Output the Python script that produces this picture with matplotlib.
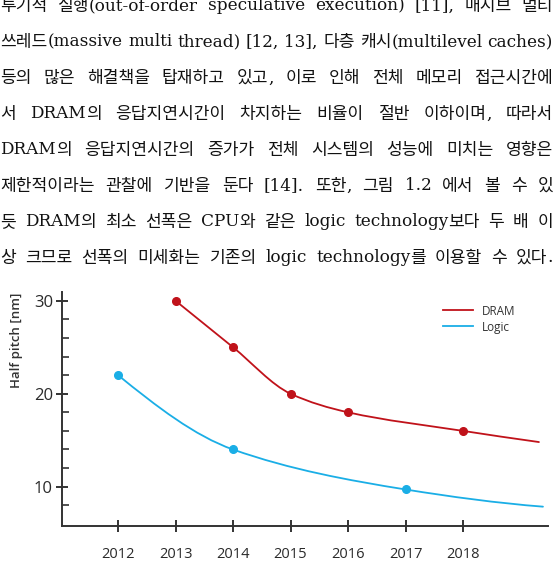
import re
import numpy as np
import matplotlib
matplotlib.use("Agg")
import matplotlib.pyplot as plt
from matplotlib.path import Path
from matplotlib.patches import PathPatch
from matplotlib.lines import Line2D

# ---------------- data ----------------
text_lines = [
    "투기적 실행(out-of-order speculative execution) [11], 매시브 멀티",
    "쓰레드(massive multi thread) [12, 13], 다층 캐시(multilevel caches)",
    "등의 많은 해결책을 탑재하고 있고, 이로 인해 전체 메모리 접근시간에",
    "서 DRAM의 응답지연시간이 차지하는 비율이 절반 이하이며, 따라서",
    "DRAM의 응답지연시간의 증가가 전체 시스템의 성능에 미치는 영향은",
    "제한적이라는 관찰에 기반을 둔다 [14]. 또한, 그림 1.2 에서 볼 수 있",
    "듯 DRAM의 최소 선폭은 CPU와 같은 logic technology보다 두 배 이",
    "상 크므로 선폭의 미세화는 기존의 logic technology를 이용할 수 있다.",
]

years = [2012, 2013, 2014, 2015, 2016, 2017, 2018]

dram_years = [2013, 2014, 2015, 2016, 2018]
dram_vals = [30, 25, 20, 18, 16]
dram_end = (2019.32, 14.8)     # curve continues past last marker

logic_years = [2012, 2014, 2017]
logic_vals = [22, 14, 9.7]
logic_end = (2019.39, 7.85)

dram_color = "#c0121a"
logic_color = "#1aaee6"

# ---------------- figure ----------------
W, H = 560, 569
fig = plt.figure(figsize=(W / 100, H / 100), dpi=100)

# paragraph text (justified, Hangul and Latin runs in separate fonts)
renderer = fig.canvas.get_renderer()
hangul_re = re.compile(r"([\uac00-\ud7a3\u3130-\u318f]+)")
x_left, x_right = 0.5, 553.0
y0, dy = 4.0, 36.0
for i, line in enumerate(text_lines):
    words = line.split(" ")
    ypix = y0 + i * dy
    yf = 1 - ypix / H
    word_runs = []
    for w in words:
        runs = []
        for seg in hangul_re.split(w):
            if not seg:
                continue
            if hangul_re.fullmatch(seg):
                t = fig.text(0, yf, seg, family="Noto Sans CJK KR",
                             fontsize=12.3, color="#111111",
                             va="center_baseline", ha="left")
            else:
                t = fig.text(0, yf, seg, family="DejaVu Serif",
                             fontsize=12.2, color="#111111",
                             va="center_baseline", ha="left")
            runs.append((t, t.get_window_extent(renderer).width))
        word_runs.append(runs)
    widths = [sum(r[1] for r in runs) for runs in word_runs]
    gap = (x_right - x_left - sum(widths)) / max(len(words) - 1, 1)
    x = x_left
    for runs, wd in zip(word_runs, widths):
        xx = x
        for t, rw in runs:
            t.set_x(xx / W)
            xx += rw
        x += wd + gap

# chart axes
ax_l, ax_r, ax_b, ax_t = 62, 548, 526, 292
ax = fig.add_axes([ax_l / W, 1 - ax_b / H, (ax_r - ax_l) / W, (ax_b - ax_t) / H])
ax.patch.set_alpha(0)


def smooth_path(xs, ys):
    xs = np.asarray(xs, float)
    ys = np.asarray(ys, float)
    h = np.diff(xs)
    d = np.diff(ys) / h
    n = len(xs)
    m = np.zeros(n)
    for k in range(1, n - 1):
        if d[k - 1] * d[k] <= 0:
            m[k] = 0
        else:
            w1 = 2 * h[k] + h[k - 1]
            w2 = h[k] + 2 * h[k - 1]
            m[k] = (w1 + w2) / (w1 / d[k - 1] + w2 / d[k])
    m[0] = ((2 * h[0] + h[1]) * d[0] - h[0] * d[1]) / (h[0] + h[1])
    m[-1] = ((2 * h[-1] + h[-2]) * d[-1] - h[-1] * d[-2]) / (h[-1] + h[-2])
    verts = [(xs[0], ys[0])]
    codes = [Path.MOVETO]
    for k in range(n - 1):
        verts += [(xs[k] + h[k] / 3, ys[k] + m[k] * h[k] / 3),
                  (xs[k + 1] - h[k] / 3, ys[k + 1] - m[k + 1] * h[k] / 3),
                  (xs[k + 1], ys[k + 1])]
        codes += [Path.CURVE4] * 3
    return Path(verts, codes)


for yrs, vals, end, col in [(dram_years, dram_vals, dram_end, dram_color),
                            (logic_years, logic_vals, logic_end, logic_color)]:
    p = smooth_path(list(yrs) + [end[0]], list(vals) + [end[1]])
    ax.add_patch(PathPatch(p, facecolor="none", edgecolor=col, lw=1.3,
                           capstyle="round"))
    ax.plot(yrs, vals, "o", color=col, ms=5.5, mec=col, zorder=3)

ax.set_xlim(2011.026, 2019.478)
ax.set_ylim(5.77, 30.94)

for s in ["top", "right"]:
    ax.spines[s].set_visible(False)
for s in ["left", "bottom"]:
    ax.spines[s].set_color("#333333")
    ax.spines[s].set_linewidth(1.4)

ax.set_xticks(years)
ax.set_xticklabels([str(y) for y in years], family="Open Sans", fontsize=10.5,
                   color="#2a2a2a")
ax.set_yticks([10, 20, 30])
ax.set_yticklabels(["10", "20", "30"], family="Open Sans", fontsize=12,
                   color="#2a2a2a")
ax.set_yticks(np.arange(8, 31, 2), minor=True)
ax.tick_params(axis="x", direction="inout", length=8, width=1.4,
               color="#333333", pad=11)
ax.tick_params(axis="y", which="major", direction="inout", length=9,
               width=1.4, color="#333333", pad=2)
ax.tick_params(axis="y", which="minor", direction="in", length=5,
               width=1.2, color="#333333")

fig.text(17 / W, 1 - 340 / H, "Half pitch [nm]", rotation=90, ha="center",
         va="center", family="Open Sans", fontweight="semibold",
         fontsize=9.5, color="#333333")

handles = [Line2D([], [], color=dram_color, lw=1.3),
           Line2D([], [], color=logic_color, lw=1.3)]
leg = fig.legend(handles, ["DRAM", "Logic"], loc="upper left",
                 bbox_to_anchor=(432 / W, 1 - 294 / H), frameon=False,
                 prop={"family": "Open Sans", "size": 8.5},
                 handlelength=2.6, handletextpad=0.7, labelspacing=0.25)
for t in leg.get_texts():
    t.set_color("#333333")

fig.savefig("out.png", dpi=100)
